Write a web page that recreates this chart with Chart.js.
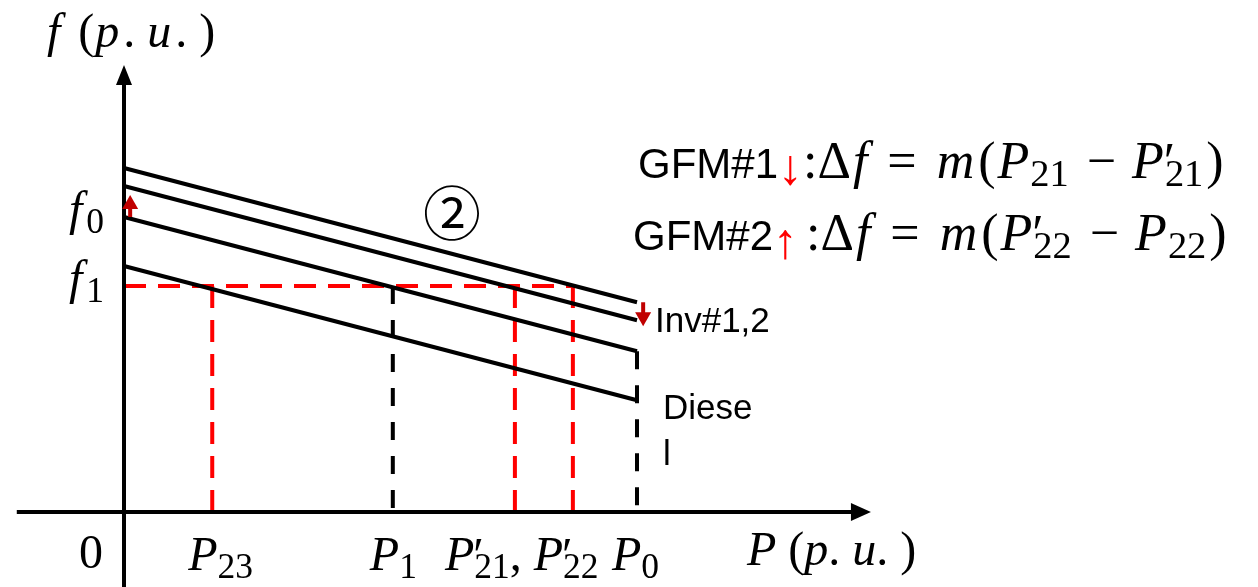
<!DOCTYPE html>
<html>
<head>
<meta charset="utf-8">
<title>Droop curves</title>
<script src="https://cdn.jsdelivr.net/npm/chart.js@4.4.0/dist/chart.umd.min.js"></script>
<style>
  html, body { margin: 0; padding: 0; background: #fff; }
  #wrap { width: 1258px; height: 587px; }
</style>
</head>
<body>
<div id="wrap"><canvas id="droopChart" width="1258" height="587"></canvas></div>
<script>
// operating points on the P axis (p.u., P0 = 1)
const pTicks = ['P23', 'P1', "P'21", "P'22", 'P0'];
const pValues = [0.172, 0.524, 0.762, 0.875, 1.0];

// droop lines, f at P = 0 and at P = P0 (top to bottom)
const droopStart = [1.166, 1.105, 1.0, 0.834];
const droopEnd = [0.711, 0.650, 0.545, 0.379];

// frequency levels on the f axis
const fTicks = ['f0', 'f1'];
const fValues = [1.0, 0.766];

// axis extents
const pAxis = [-0.209, 1.456];
const fAxis = [-0.26, 1.515];

const SERIF = '"Liberation Serif", "DejaVu Serif", serif';
const SANS = '"Liberation Sans", Arial, sans-serif';
const BLACK = '#000000';
const RED = '#FF0000';
const DARK_RED = '#C00000';

function seg(x0, y0, x1, y1) {
    return [{ x: x0, y: y0 }, { x: x1, y: y1 }];
}

function lineSet(data, color, width, dash) {
    return {
        data: data,
        showLine: true,
        borderColor: color,
        borderWidth: width,
        borderDash: dash || [],
        borderCapStyle: 'butt',
        pointRadius: 0,
        fill: false,
        tension: 0
    };
}

var datasets = [];

// axes (arrow heads are added by the plugin)
datasets.push(lineSet(seg(pAxis[0], 0, pAxis[1] - 0.03, 0), BLACK, 4));
datasets.push(lineSet(seg(0, fAxis[0], 0, fAxis[1] - 0.06), BLACK, 4));

// four parallel droop lines
droopStart.forEach(function(f, i) {
    datasets.push(lineSet(seg(0, f, pValues[4], droopEnd[i]), BLACK, 4));
});

// f1 level and the operating points it crosses
var f1 = fValues[1];
datasets.push(lineSet(seg(0, f1, pValues[3], f1), RED, 4, [22, 12]));
[0, 2, 3].forEach(function(i) {
    datasets.push(lineSet(seg(pValues[i], f1, pValues[i], 0), RED, 4, [22, 12]));
});
datasets.push(lineSet(seg(pValues[1], f1, pValues[1], 0), BLACK, 4, [18, 16]));
datasets.push(lineSet(seg(pValues[4], droopEnd[2], pValues[4], 0), BLACK, 4, [18, 16]));

// shift arrows on the droop lines
var shiftArrows = [
    { x: 0.012, from: droopStart[2], to: droopStart[1] - 0.03 },
    { x: 1.012, from: droopEnd[0], to: droopEnd[1] - 0.02 }
];

// helpers for mixed math / plain text
function I(t, pad) { return { t: t, it: true, pad: pad || 0 }; }
function R(t, pad, lead) { return { t: t, pad: pad || 0, lead: lead || 0 }; }
function S(t, pad) { return { t: t, sub: true, pad: pad || 0 }; }
function Q() { return { t: '\u2032', prime: true, stay: true }; }

function drawRuns(ctx, runs, x, y, size, align) {
    var parts = runs.map(function(r) {
        var s = r.size || (r.sub ? size * 0.74 : size);
        var font = (r.it ? 'italic ' : '') + s + 'px ' + (r.sans ? SANS : SERIF);
        ctx.font = font;
        var w = r.stay ? 0 : ctx.measureText(r.t).width + (r.pad || 0);
        return { r: r, font: font, w: w };
    });
    var total = parts.reduce(function(a, p) { return a + p.w; }, 0);
    var cx = align === 'center' ? x - total / 2 : (align === 'right' ? x - total : x);
    ctx.textAlign = 'left';
    ctx.textBaseline = 'alphabetic';
    parts.forEach(function(p) {
        var r = p.r;
        ctx.font = p.font;
        ctx.fillStyle = r.color || BLACK;
        var dy = r.sub ? size * 0.16 : (r.prime ? size * 0.02 : 0);
        var dx = r.prime ? -size * 0.02 : 0;
        ctx.fillText(r.t, cx + dx + (r.lead || 0), y + dy + (r.dy || 0));
        cx += p.w;
    });
    return total;
}

function arrowHead(ctx, tx, ty, dx, dy, len, half, color) {
    var nx = -dy, ny = dx;
    ctx.beginPath();
    ctx.moveTo(tx, ty);
    ctx.lineTo(tx - dx * len + nx * half, ty - dy * len + ny * half);
    ctx.lineTo(tx - dx * len - nx * half, ty - dy * len - ny * half);
    ctx.closePath();
    ctx.fillStyle = color;
    ctx.fill();
}

const annotations = {
    id: 'annotations',
    afterDatasetsDraw: function(chart) {
        var ctx = chart.ctx;
        var xs = chart.scales.x, ys = chart.scales.y;
        var px = function(v) { return xs.getPixelForValue(v); };
        var py = function(v) { return ys.getPixelForValue(v); };
        ctx.save();

        // axis arrow heads
        arrowHead(ctx, px(pAxis[1]), py(0), 1, 0, 20, 9, BLACK);
        arrowHead(ctx, px(0), py(fAxis[1]), 0, -1, 20, 8, BLACK);

        // shift arrows
        shiftArrows.forEach(function(a) {
            var x = px(a.x), y0 = py(a.from), y1 = py(a.to);
            var dir = y1 < y0 ? -1 : 1;
            ctx.strokeStyle = DARK_RED;
            ctx.lineWidth = 4;
            ctx.beginPath();
            ctx.moveTo(x, y0);
            ctx.lineTo(x, y1 - dir * 12);
            ctx.stroke();
            arrowHead(ctx, x, y1, 0, dir, 14, 8, DARK_RED);
        });

        var M = 48;
        var base = py(0);

        // axis titles
        drawRuns(ctx, [I('f', 18), R('(', 1), I('p', 4), R('.', 12), I('u', 4), R('.', 12), R(')')], px(0) - 77, py(fAxis[1]) - 18, M, 'left');
        drawRuns(ctx, [I('P'), R(' ('), I('p'), R('. '), I('u'), R('. )')], 747, base + 53, M, 'left');
        drawRuns(ctx, [R('0')], px(0) - 21, base + 56, M, 'right');

        // f ticks
        fTicks.forEach(function(t, i) {
            drawRuns(ctx, [I('f', 4), S(t.slice(1))], px(0) - 20, py(fValues[i]) + 8, M, 'right');
        });

        // P ticks
        drawRuns(ctx, [I('P'), S('23')], px(pValues[0]) - 24, base + 58, M, 'left');
        drawRuns(ctx, [I('P'), S('1')], px(pValues[1]) - 23, base + 58, M, 'left');
        drawRuns(ctx, [I('P'), Q(), S('21'), R(', '), I('P'), Q(), S('22')], px(pValues[2]) - 70, base + 58, M, 'left');
        drawRuns(ctx, [I('P'), S('0')], px(pValues[4]) - 25, base + 58, M, 'left');

        // line labels
        ctx.font = '35px ' + SANS;
        ctx.fillStyle = BLACK;
        ctx.textAlign = 'left';
        ctx.fillText('Inv#1,2', px(pValues[4]) + 18, py(droopEnd[1]) + 12);
        ctx.fillText('Diese', px(pValues[4]) + 26, py(droopEnd[3]) + 19);
        ctx.fillText('l', px(pValues[4]) + 26, py(droopEnd[3]) + 65);

        // circled region number
        ctx.font = '58px "Noto Sans CJK SC", "DejaVu Sans", sans-serif';
        ctx.textAlign = 'center';
        ctx.textBaseline = 'middle';
        ctx.fillText('\u2461', 452, 213);

        // frequency deviation formulas
        var G = 42, F = 52;
        drawRuns(ctx, [
            { t: 'GFM#1', sans: true, size: G },
            { t: '\u2193', sans: true, size: 50, color: RED, dy: 6 },
            R(':\u0394', 2), I('f', 20), R('=', 20), I('m', 4), R('(', 2), I('P', 1), S('21', 2), R('\u2212', 32, 16),
            I('P', 1), Q(), S('21', 3), R(')')
        ], 638, 178, F, 'left');
        drawRuns(ctx, [
            { t: 'GFM#2', sans: true, size: G },
            { t: '\u2191', sans: true, size: 50, color: RED, dy: 8, pad: 8 },
            R(':\u0394', 2), I('f', 20), R('=', 20), I('m', 4), R('(', 2), I('P', 1), Q(), S('22', 2), R('\u2212', 32, 16),
            I('P', 1), S('22', 3), R(')')
        ], 633, 250, F, 'left');

        ctx.restore();
    }
};

new Chart(document.getElementById('droopChart').getContext('2d'), {
    type: 'scatter',
    data: { datasets: datasets },
    options: {
        responsive: false,
        devicePixelRatio: 1,
        animation: false,
        layout: { padding: 0 },
        plugins: {
            legend: { display: false },
            tooltip: { enabled: false },
            title: { display: false }
        },
        scales: {
            x: { type: 'linear', display: false, min: -124 / 513, max: 1134 / 513 },
            y: { type: 'linear', display: false, min: -75 / 295, max: 512 / 295 }
        }
    },
    plugins: [annotations]
});
</script>
</body>
</html>
